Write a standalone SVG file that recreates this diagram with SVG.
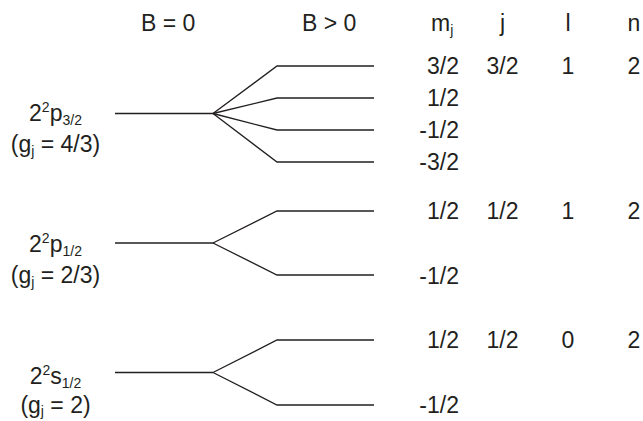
<svg xmlns="http://www.w3.org/2000/svg" width="643" height="421" viewBox="0 0 643 421">
<style>
text{font-family:"Liberation Sans",Arial,sans-serif;font-size:23px;fill:#231f20}
.s{font-size:14px}
.e{text-anchor:end}
.m{text-anchor:middle}
.ln{fill:none;stroke:#231f20;stroke-width:1.3}
</style>
<rect width="643" height="421" fill="#fff"/>
<g id="headers">
<text x="141" y="31">B = 0</text>
<text x="302" y="31">B &gt; 0</text>
<text x="431" y="31">m<tspan class="s" dy="4">j</tspan></text>
<text x="502.5" y="31" class="m">j</text>
<text x="568" y="31" class="m">l</text>
<text x="634" y="31" class="m">n</text>
</g>
<g id="state-p32">
<text x="55.5" y="121" class="m">2<tspan class="s" dy="-9">2</tspan><tspan dy="9">p</tspan><tspan class="s" dy="4">3/2</tspan></text>
<text x="55.5" y="152" class="m">(g<tspan class="s" dy="4">j</tspan><tspan dy="-4"> = 4/3)</tspan></text>
<text x="459" y="74" class="e">3/2</text>
<text x="459" y="106" class="e">1/2</text>
<text x="459" y="138" class="e">-1/2</text>
<text x="459" y="170" class="e">-3/2</text>
<text x="502.5" y="74" class="m">3/2</text>
<text x="568" y="74" class="m">1</text>
<text x="634" y="74" class="m">2</text>
</g>
<g id="state-p12">
<text x="55.5" y="252" class="m">2<tspan class="s" dy="-9">2</tspan><tspan dy="9">p</tspan><tspan class="s" dy="4">1/2</tspan></text>
<text x="55.5" y="283" class="m">(g<tspan class="s" dy="4">j</tspan><tspan dy="-4"> = 2/3)</tspan></text>
<text x="459" y="219" class="e">1/2</text>
<text x="459" y="284" class="e">-1/2</text>
<text x="502.5" y="219" class="m">1/2</text>
<text x="568" y="219" class="m">1</text>
<text x="634" y="219" class="m">2</text>
</g>
<g id="state-s12">
<text x="55.5" y="384" class="m">2<tspan class="s" dy="-9">2</tspan><tspan dy="9">s</tspan><tspan class="s" dy="4">1/2</tspan></text>
<text x="55.5" y="413" class="m">(g<tspan class="s" dy="3">j</tspan><tspan dy="-3"> = 2)</tspan></text>
<text x="459" y="348" class="e">1/2</text>
<text x="459" y="413" class="e">-1/2</text>
<text x="502.5" y="348" class="m">1/2</text>
<text x="568" y="348" class="m">0</text>
<text x="634" y="348" class="m">2</text>
</g>
<g id="connectors" class="ln">
<path d="M115 113.5H213"/>
<path d="M213 113.5L277 66H374"/>
<path d="M213 113.5L277 98H374"/>
<path d="M213 113.5L277 130H374"/>
<path d="M213 113.5L277 162H374"/>
<path d="M115 243H213"/>
<path d="M213 243L277 211H374"/>
<path d="M213 243L277 275H374"/>
<path d="M115 372.5H213"/>
<path d="M213 372.5L277 340H374"/>
<path d="M213 372.5L277 405H374"/>
</g>
</svg>
